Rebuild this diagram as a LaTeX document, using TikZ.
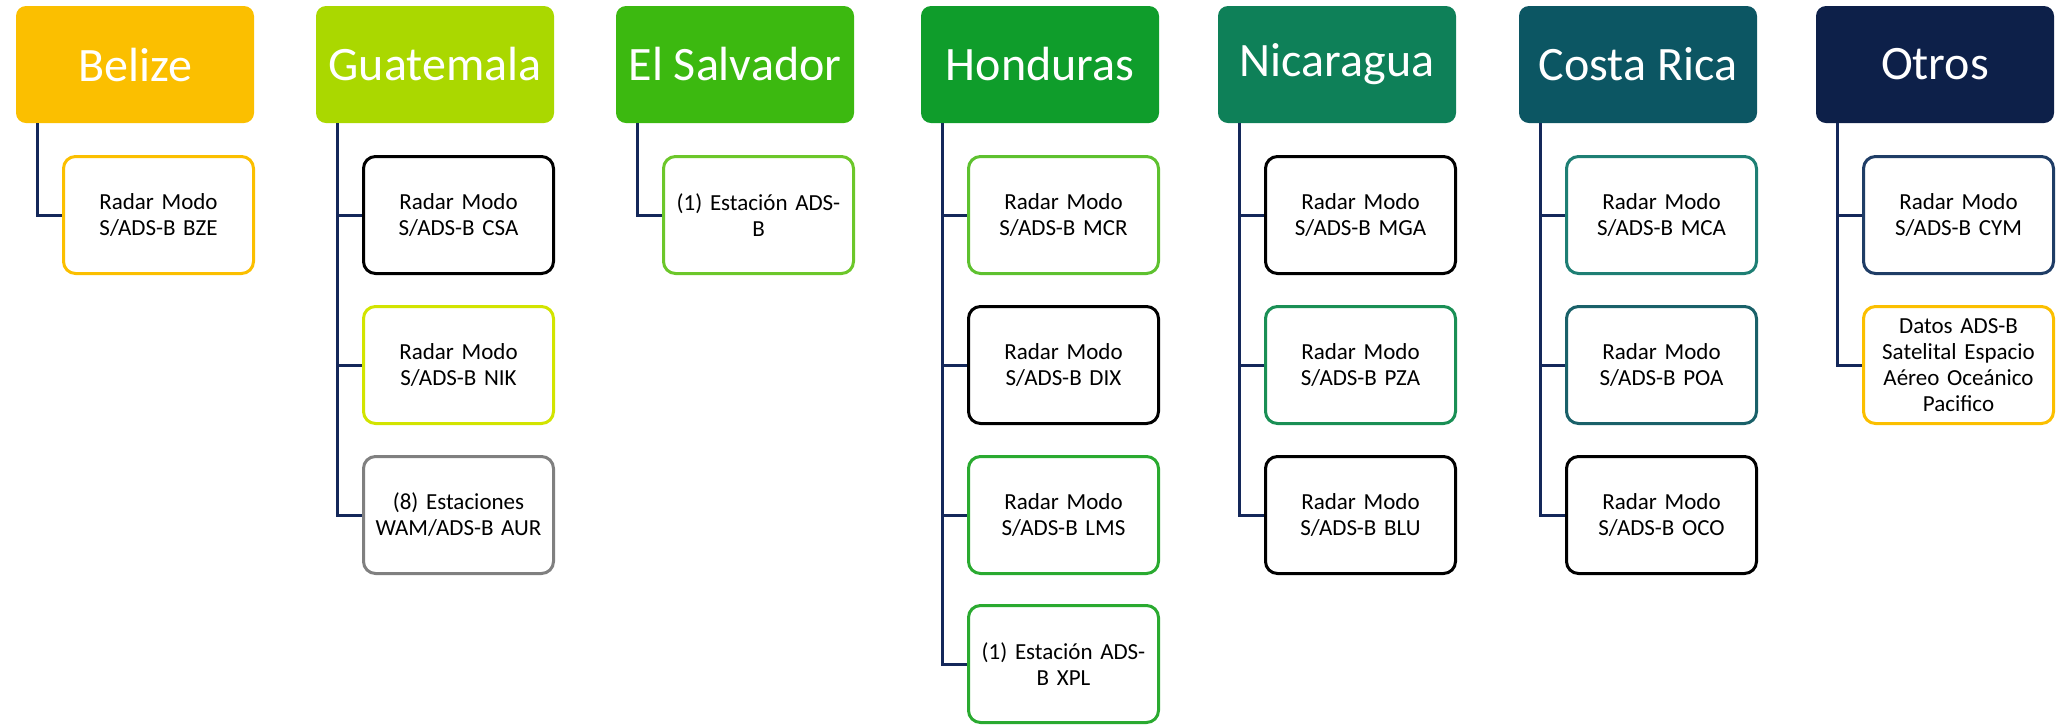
\documentclass[tikz,border=0pt]{standalone}
\usepackage{fontspec}
\setmainfont{Carlito}
\definecolor{cBel}{HTML}{FBBF00}
\definecolor{cGua}{HTML}{AAD800}
\definecolor{cSal}{HTML}{3CB910}
\definecolor{cHon}{HTML}{0F9D2B}
\definecolor{cNic}{HTML}{0E8058}
\definecolor{cCos}{HTML}{0C5663}
\definecolor{cOtr}{HTML}{0D2049}
\definecolor{bNik}{HTML}{D2E400}
\definecolor{bAur}{HTML}{808080}
\definecolor{bSal}{HTML}{6CC72A}
\definecolor{bMcr}{HTML}{5EC12F}
\definecolor{bLms}{HTML}{2AAA30}
\definecolor{bPza}{HTML}{1A8F55}
\definecolor{bMca}{HTML}{1E7F74}
\definecolor{bPoa}{HTML}{1A6169}
\definecolor{bCym}{HTML}{1F3D66}
\definecolor{cConn}{HTML}{14285A}
\begin{document}
\begin{tikzpicture}[x=0.5pt,y=-0.5pt,
  hdr/.style={rectangle, rounded corners=5pt, draw=none, minimum width=119pt, minimum height=58.5pt,
    text=white, font=\fontsize{24}{28}\selectfont, inner sep=0pt},
  child/.style={rectangle, rounded corners=6pt, line width=1.5pt, fill=white, minimum width=95pt, minimum height=58.5pt,
    text width=92pt, align=center, font=\fontsize{11.5}{13}\selectfont, inner sep=0pt},
  conn/.style={draw=cConn, line width=1.5pt}]
\useasboundingbox (0,0) rectangle (2056,725);
% headers (centre x = left + 119)
\node[hdr, fill=cBel] (h1) at (135,64.5) {Belize};
\node[hdr, fill=cGua] (h2) at (435,64.5) {Guatemala};
\node[hdr, fill=cSal] (h3) at (735,64.5) {El Salvador};
\node[hdr, fill=cHon] (h4) at (1040,64.5) {Honduras};
\node[hdr, fill=cNic] (h5) at (1337,64.5) {Nicaragua};
\node[hdr, fill=cCos] (h6) at (1638,64.5) {Costa Rica};
\node[hdr, fill=cOtr] (h7) at (1935,64.5) {Otros};
% children (centre x = left + 142.5)
\node[child, draw=cBel] (c11) at (158.5,215) {Radar Modo\\S/ADS-B BZE};
\node[child, draw=black] (c21) at (458.5,215) {Radar Modo\\S/ADS-B CSA};
\node[child, draw=bNik] (c22) at (458.5,365) {Radar Modo\\S/ADS-B NIK};
\node[child, draw=bAur] (c23) at (458.5,515) {(8) Estaciones\\WAM/ADS-B AUR};
\node[child, draw=bSal] (c31) at (758.5,215) {(1) Estación ADS-\\B};
\node[child, draw=bMcr] (c41) at (1063.5,215) {Radar Modo\\S/ADS-B MCR};
\node[child, draw=black] (c42) at (1063.5,365) {Radar Modo\\S/ADS-B DIX};
\node[child, draw=bLms] (c43) at (1063.5,515) {Radar Modo\\S/ADS-B LMS};
\node[child, draw=bLms] (c44) at (1063.5,664) {(1) Estación ADS-\\B XPL};
\node[child, draw=black] (c51) at (1360.5,215) {Radar Modo\\S/ADS-B MGA};
\node[child, draw=bPza] (c52) at (1360.5,365) {Radar Modo\\S/ADS-B PZA};
\node[child, draw=black] (c53) at (1360.5,515) {Radar Modo\\S/ADS-B BLU};
\node[child, draw=bMca] (c61) at (1661.5,215) {Radar Modo\\S/ADS-B MCA};
\node[child, draw=bPoa] (c62) at (1661.5,365) {Radar Modo\\S/ADS-B POA};
\node[child, draw=black] (c63) at (1661.5,515) {Radar Modo\\S/ADS-B OCO};
\node[child, draw=bCym] (c71) at (1958.5,215) {Radar Modo\\S/ADS-B CYM};
\node[child, draw=cBel] (c72) at (1958.5,365) {Datos ADS-B\\Satelital Espacio\\Aéreo Oceánico\\Pacifico};
% connectors
\foreach \h/\c in {h1/c11, h2/c21, h2/c22, h2/c23, h3/c31, h4/c41, h4/c42, h4/c43, h4/c44,
                   h5/c51, h5/c52, h5/c53, h6/c61, h6/c62, h6/c63, h7/c71, h7/c72}
  \draw[conn] ([xshift=11pt]\h.south west) |- (\c.west);
\end{tikzpicture}
\end{document}
